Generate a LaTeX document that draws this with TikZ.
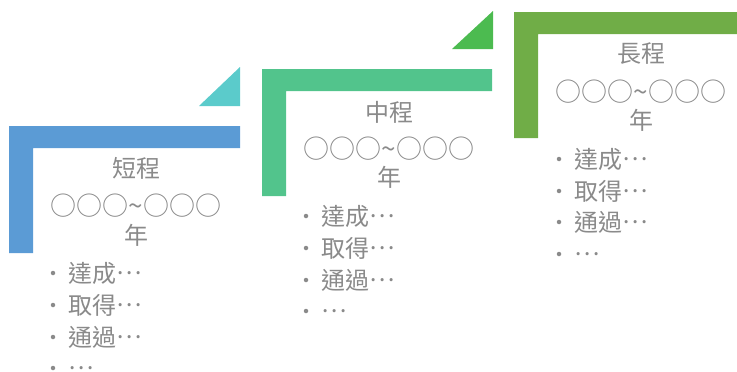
\documentclass[tikz,border=0pt]{standalone}
\usepackage{fontspec}
\setmainfont{Noto Sans CJK TC}
\definecolor{txtgray}{HTML}{8A8A8A}
\definecolor{shortblue}{HTML}{5B9BD5}
\definecolor{shortteal}{HTML}{5BCBCB}
\definecolor{midgreen}{HTML}{52C48C}
\definecolor{midtri}{HTML}{4CBB50}
\definecolor{longgreen}{HTML}{70AD47}
\newcommand{\midell}{\raisebox{0.3em}{…}}
\begin{document}
\begin{tikzpicture}[x=1pt,y=-1pt]
  \tikzstyle{every node}=[text=txtgray,inner sep=0pt,font=\fontsize{24}{28}\selectfont]
  \tikzstyle{title}=[anchor=center]
  \tikzstyle{span}=[anchor=center,font=\fontsize{26}{28}\selectfont]
  \tikzstyle{dot}=[circle,fill=txtgray,minimum size=4.5pt]
  \tikzstyle{item}=[anchor=west,text height=21pt,text depth=3pt]
  \useasboundingbox (0,0) rectangle (737,372);
  \clip (0,0) rectangle (737,372);
  % short term
  \fill[shortblue] (9,126) -- (240,126) -- (240,148) -- (33,148) -- (33,253) -- (9,253) -- cycle;
  \fill[shortteal] (199,106) -- (240,106) -- (240,67) -- cycle;
  \node[title] (short)      at (136,168) {短程};
  \node[span]  (shortspan)  at (136,206) {○○○\textasciitilde○○○};
  \node[title] (shortyear)  at (136,235) {年};
  \node[dot]   (shortdota)  at (53,273) {};
  \node[item]  (shorta)     at (68,273) {達成\midell};
  \node[dot]   (shortdotb)  at (53,305) {};
  \node[item]  (shortb)     at (68,305) {取得\midell};
  \node[dot]   (shortdotc)  at (53,337) {};
  \node[item]  (shortc)     at (68,337) {通過\midell};
  \node[dot]   (shortdotd)  at (53,368) {};
  \node[item]  (shortd)     at (68,368) {\midell};
  % middle term
  \fill[midgreen] (262,69) -- (492,69) -- (492,91) -- (286,91) -- (286,196) -- (262,196) -- cycle;
  \fill[midtri] (452,49) -- (493,49) -- (493,11) -- cycle;
  \node[title] (mid)        at (389,112) {中程};
  \node[span]  (midspan)    at (389,149) {○○○\textasciitilde○○○};
  \node[title] (midyear)    at (389,177) {年};
  \node[dot]   (middota)    at (306,216) {};
  \node[item]  (mida)       at (321,216) {達成\midell};
  \node[dot]   (middotb)    at (306,248) {};
  \node[item]  (midb)       at (321,248) {取得\midell};
  \node[dot]   (middotc)    at (306,280) {};
  \node[item]  (midc)       at (321,280) {通過\midell};
  \node[dot]   (middotd)    at (306,311) {};
  \node[item]  (midd)       at (321,311) {\midell};
  % long term
  \fill[longgreen] (514,12) -- (744,12) -- (744,34) -- (538,34) -- (538,138) -- (514,138) -- cycle;
  \node[title] (long)       at (641,54) {長程};
  \node[span]  (longspan)   at (641,92) {○○○\textasciitilde○○○};
  \node[title] (longyear)   at (641,120) {年};
  \node[dot]   (longdota)   at (559,159) {};
  \node[item]  (longa)      at (574,159) {達成\midell};
  \node[dot]   (longdotb)   at (559,191) {};
  \node[item]  (longb)      at (574,191) {取得\midell};
  \node[dot]   (longdotc)   at (559,222) {};
  \node[item]  (longc)      at (574,222) {通過\midell};
  \node[dot]   (longdotd)   at (559,254) {};
  \node[item]  (longd)      at (574,254) {\midell};
\end{tikzpicture}
\end{document}
